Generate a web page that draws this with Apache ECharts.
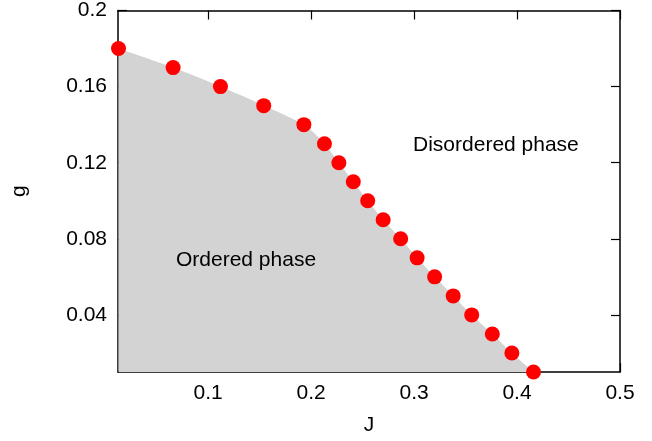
<!DOCTYPE html>
<html><head><meta charset="utf-8">
<script src="https://cdn.jsdelivr.net/npm/echarts@6/dist/echarts.min.js"></script>
<style>html,body{margin:0;padding:0;background:#fff}#c{width:652px;height:441px}</style>
</head><body><div id="c"></div>
<script>
const J = [0.013, 0.066, 0.112, 0.154, 0.193, 0.213, 0.227, 0.241, 0.255, 0.270, 0.287, 0.303, 0.320, 0.338, 0.356, 0.376, 0.395, 0.416];
const g = [0.18, 0.17, 0.16, 0.15, 0.14, 0.13, 0.12, 0.11, 0.10, 0.09, 0.08, 0.07, 0.06, 0.05, 0.04, 0.03, 0.02, 0.01];
const xTicks = [0.1, 0.2, 0.3, 0.4, 0.5];
const yTicks = [0.04, 0.08, 0.12, 0.16, 0.2];
const labels = [
  {text: 'Disordered phase', x: 0.299, y: 0.129},
  {text: 'Ordered phase', x: 0.0688, y: 0.0690}
];
const pts = J.map((x, i) => [x, g[i]]);
const font = 'Liberation Sans, Arial, sans-serif';
const fs = 21;
const chart = echarts.init(document.getElementById('c'), null, {renderer: 'canvas'});
const axLine = {show: true, lineStyle: {color: '#000', width: 1.5}};
const tick = vals => ({show: true, inside: true, length: 9, customValues: vals, lineStyle: {color: '#000', width: 1.2}});
chart.setOption({
  animation: false,
  grid: {left: 118, right: 32, top: 10, bottom: 67, show: false},
  xAxis: [
    {type: 'value', min: 0.0125, max: 0.5, position: 'bottom',
     name: 'J', nameLocation: 'middle', nameGap: 43,
     nameTextStyle: {fontSize: fs, color: '#000', fontFamily: font},
     axisLine: axLine, splitLine: {show: false},
     axisTick: tick(xTicks),
     axisLabel: {customValues: xTicks, fontSize: fs, color: '#000', fontFamily: font, margin: 11,
       formatter: v => String(+v.toFixed(2))}},
    {type: 'value', min: 0.0125, max: 0.5, position: 'top',
     axisLine: axLine, splitLine: {show: false},
     axisTick: tick(xTicks),
     axisLabel: {show: false}}
  ],
  yAxis: [
    {type: 'value', min: 0.01, max: 0.2, position: 'left',
     name: 'g', nameLocation: 'middle', nameGap: 88, nameRotate: 90,
     nameTextStyle: {fontSize: fs, color: '#000', fontFamily: font},
     axisLine: axLine, splitLine: {show: false},
     axisTick: tick(yTicks),
     axisLabel: {customValues: yTicks, fontSize: fs, color: '#000', fontFamily: font, margin: 11,
       formatter: v => String(+v.toFixed(2))}},
    {type: 'value', min: 0.01, max: 0.2, position: 'right',
     axisLine: axLine, splitLine: {show: false},
     axisTick: tick(yTicks),
     axisLabel: {show: false}}
  ],
  series: [
    {type: 'line', data: pts, symbol: 'none', smooth: 0.3, lineStyle: {width: 0},
     areaStyle: {color: '#d3d3d3', opacity: 1}, z: 1},
    {type: 'scatter', data: pts, symbolSize: 15, itemStyle: {color: '#ff0000', opacity: 1}, z: 3},
    {type: 'scatter', data: labels.map(l => ({value: [l.x, l.y], name: l.text})), symbolSize: 0,
     itemStyle: {opacity: 1},
     label: {show: true, position: 'right', distance: 0, formatter: p => p.name, fontSize: fs, color: '#000', fontFamily: font},
     z: 4, silent: true}
  ]
});
</script></body></html>
